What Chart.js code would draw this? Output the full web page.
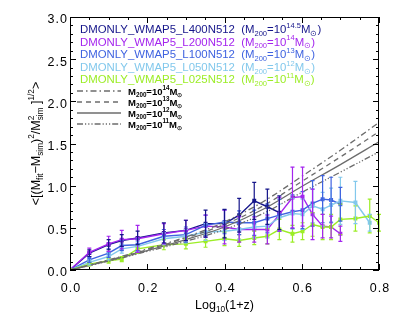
<!DOCTYPE html>
<html lang="en">
<head>
  <meta charset="UTF-8" />
  <title>Mass fit scatter vs redshift</title>
  <script src="https://cdn.jsdelivr.net/npm/chart.js"></script>
  <style>
    html, body { margin: 0; padding: 0; background: #fff; }
    canvas { display: block; }
  </style>
</head>
<body>
  <canvas id="c" width="399" height="319"></canvas>
  <script>
    // log10(1+z) of the snapshots (0 = origin where every curve starts)
    const xSnap = [0, 0.05, 0.10, 0.134, 0.175, 0.243, 0.30, 0.351, 0.40, 0.438, 0.477, 0.511,
                   0.542, 0.576, 0.602, 0.628, 0.654, 0.676, 0.70, 0.739, 0.776, 0.80];

    const l400Y   = [0, 0.20, 0.30, 0.35, 0.38, 0.44, 0.47, 0.55, 0.55, 0.65, 0.82, 0.75, 0.68];
    const l400Err = [0, 0.04, 0.06, 0.07, 0.08, 0.12, 0.12, 0.16, 0.17, 0.20, 0.22, 0.21, 0.20];

    const l200Y   = [0, 0.21, 0.31, 0.36, 0.37, 0.43, 0.47, 0.52, 0.51, 0.48, 0.48, 0.48, 0.66, 0.86, 0.87, 0.66, 0.52, 0.51, 0.43];
    const l200Err = [0, 0.05, 0.09, 0.11, 0.16, 0.12, 0.12, 0.13, 0.20, 0.15, 0.15, 0.17, 0.20, 0.36, 0.35, 0.30, 0.14, 0.13, 0.09];

    const l100Y   = [0, 0.12, 0.20, 0.29, 0.30, 0.40, 0.42, 0.53, 0.57, 0.56, 0.56, 0.61, 0.65, 0.69, 0.71, 0.79, 0.84, 0.83, 0.78];
    const l100Err = [0, 0.03, 0.05, 0.06, 0.07, 0.08, 0.09, 0.12, 0.14, 0.14, 0.15, 0.17, 0.19, 0.20, 0.22, 0.27, 0.28, 0.27, 0.20];

    const l050Y   = [0, 0.09, 0.16, 0.25, 0.28, 0.37, 0.40, 0.45, 0.46, 0.48, 0.51, 0.52, 0.62, 0.67, 0.66, 0.76, 0.72, 0.77, 0.82, 0.80, 0.56];
    const l050Err = [0, 0.03, 0.04, 0.05, 0.06, 0.07, 0.08, 0.10, 0.11, 0.12, 0.13, 0.14, 0.16, 0.18, 0.18, 0.20, 0.20, 0.20, 0.28, 0.25, 0.10];

    const l025Y   = [0, 0.07, 0.11, 0.13, 0.25, 0.30, 0.31, 0.34, 0.37, 0.35, 0.38, 0.40, 0.48, 0.43, 0.46, 0.54, 0.51, 0.51, 0.60, 0.61, 0.64, 0.56];
    const l025Err = [0, 0.02, 0.03, 0.03, 0.05, 0.06, 0.06, 0.07, 0.08, 0.07, 0.08, 0.09, 0.12, 0.10, 0.10, 0.14, 0.15, 0.15, 0.18, 0.15, 0.20, 0.10];

    // model curves
    const xModel   = [0, 0.1, 0.2, 0.3, 0.4, 0.5, 0.6, 0.7, 0.8];
    const model14  = [0, 0.12, 0.25, 0.39, 0.57, 0.81, 1.11, 1.42, 1.75];
    const model13  = [0, 0.115, 0.24, 0.38, 0.54, 0.76, 1.05, 1.34, 1.64];
    const model12  = [0, 0.11, 0.23, 0.36, 0.51, 0.72, 0.99, 1.25, 1.52];
    const model11  = [0, 0.105, 0.22, 0.34, 0.48, 0.67, 0.92, 1.16, 1.40];

    const simNames  = ["DMONLY_WMAP5_L400N512", "DMONLY_WMAP5_L200N512", "DMONLY_WMAP5_L100N512",
                       "DMONLY_WMAP5_L050N512", "DMONLY_WMAP5_L025N512"];
    const simMassExp = ["14.5", "14", "13", "12", "11"];
    const modelExp   = ["14", "13", "12", "11"];

    const yTicks = [0, 0.5, 1.0, 1.5, 2.0, 2.5, 3.0];
    const xTicks = [0, 0.2, 0.4, 0.6, 0.8];

    const simColors = ["#15158a", "#a425ee", "#3f63e0", "#82c8ec", "#9ced26"];
    const grey = "#6c6c6c";
    const modelDash = [[6, 3, 1.5, 3], [5, 4], [], [6, 2, 1.2, 2, 1.2, 2, 1.2, 2]];

    const FONT = "'Liberation Sans', Arial, sans-serif";

    const toPts = (xs, ys) => ys.map((y, i) => ({ x: xs[i], y }));

    const simY = [l400Y, l200Y, l100Y, l050Y, l025Y];
    const simErr = [l400Err, l200Err, l100Err, l050Err, l025Err];
    const models = [model14, model13, model12, model11];

    const datasets = [];
    models.forEach((m, i) => {
      datasets.push({
        data: toPts(xModel, m),
        borderColor: grey,
        borderWidth: 1.3,
        borderDash: modelDash[i],
        pointRadius: 0,
        tension: 0.35,
        fill: false
      });
    });
    [4, 3, 2, 1, 0].forEach(i => {
      datasets.push({
        data: toPts(xSnap, simY[i]),
        errors: simErr[i],
        borderColor: simColors[i],
        backgroundColor: simColors[i],
        borderWidth: 1.4,
        pointRadius: 1.8,
        pointStyle: 'rect',
        tension: 0,
        fill: false
      });
    });

    // text with sub / superscripts: parts = [[text, kind]], kind n|sub|sup|both
    function richWidth(ctx, parts, size, weight) {
      let w = 0;
      parts.forEach(([t, k]) => {
        if (k === 'both') {
          ctx.font = `${weight} ${size * 0.66}px ${FONT}`;
          w += Math.max(ctx.measureText(t[0]).width, ctx.measureText(t[1]).width);
        } else {
          ctx.font = `${weight} ${k === 'n' ? size : size * 0.66}px ${FONT}`;
          w += ctx.measureText(t).width;
        }
      });
      return w;
    }

    function drawRich(ctx, parts, x, y, size, color, weight = 'normal') {
      ctx.fillStyle = color;
      ctx.textBaseline = 'alphabetic';
      ctx.textAlign = 'left';
      parts.forEach(([t, k]) => {
        if (k === 'n') {
          ctx.font = `${weight} ${size}px ${FONT}`;
          ctx.fillText(t, x, y);
          x += ctx.measureText(t).width;
        } else if (k === 'sub') {
          ctx.font = `${weight} ${size * 0.66}px ${FONT}`;
          ctx.fillText(t, x, y + size * 0.25);
          x += ctx.measureText(t).width;
        } else if (k === 'sup') {
          ctx.font = `${weight} ${size * 0.66}px ${FONT}`;
          ctx.fillText(t, x, y - size * 0.45);
          x += ctx.measureText(t).width;
        } else {
          ctx.font = `${weight} ${size * 0.66}px ${FONT}`;
          ctx.fillText(t[0], x, y - size * 0.45);
          ctx.fillText(t[1], x, y + size * 0.25);
          x += Math.max(ctx.measureText(t[0]).width, ctx.measureText(t[1]).width);
        }
      });
      return x;
    }

    const errorBars = {
      id: 'errorBars',
      afterDatasetsDraw(chart) {
        const { ctx, scales: { x, y } } = chart;
        chart.data.datasets.forEach(ds => {
          if (!ds.errors) return;
          ctx.save();
          ctx.strokeStyle = ds.borderColor;
          ctx.lineWidth = 1.2;
          ds.data.forEach((p, i) => {
            const e = ds.errors[i];
            if (!e) return;
            const px = x.getPixelForValue(p.x);
            const y1 = y.getPixelForValue(p.y + e);
            const y2 = y.getPixelForValue(p.y - e);
            ctx.beginPath();
            ctx.moveTo(px, y1); ctx.lineTo(px, y2);
            ctx.moveTo(px - 2, y1); ctx.lineTo(px + 2, y1);
            ctx.moveTo(px - 2, y2); ctx.lineTo(px + 2, y2);
            ctx.stroke();
          });
          ctx.restore();
        });
      }
    };

    const frame = {
      id: 'frame',
      afterDraw(chart) {
        const { ctx, chartArea: a, scales: { x, y } } = chart;
        ctx.save();
        ctx.strokeStyle = '#000';
        ctx.lineWidth = 1;
        ctx.strokeRect(a.left + 0.5, a.top + 0.5, a.right - a.left - 1, a.bottom - a.top - 1);

        ctx.beginPath();
        for (let i = 0; i <= 30; i++) {
          const py = Math.round(y.getPixelForValue(i / 10)) + 0.5;
          const len = i % 5 === 0 ? 6 : 3;
          ctx.moveTo(a.left, py); ctx.lineTo(a.left + len, py);
          ctx.moveTo(a.right, py); ctx.lineTo(a.right - len, py);
        }
        for (let i = 0; i <= 16; i++) {
          const px = Math.round(x.getPixelForValue(i * 0.05)) + 0.5;
          const len = i % 4 === 0 ? 6 : 3;
          ctx.moveTo(px, a.bottom); ctx.lineTo(px, a.bottom - len);
          ctx.moveTo(px, a.top); ctx.lineTo(px, a.top + len);
        }
        ctx.stroke();

        // tick labels
        ctx.fillStyle = '#000';
        ctx.font = `12.5px ${FONT}`;
        ctx.letterSpacing = '1px';
        ctx.textBaseline = 'middle';
        ctx.textAlign = 'right';
        yTicks.forEach(v => ctx.fillText(v.toFixed(1), a.left - 2, y.getPixelForValue(v) + 3));
        ctx.textAlign = 'center';
        ctx.textBaseline = 'alphabetic';
        xTicks.forEach(v => ctx.fillText(v.toFixed(1), x.getPixelForValue(v) + 1, a.bottom + 22));
        ctx.letterSpacing = '0px';

        // x title
        const xt = [["Log", 'n'], ["10", 'sub'], ["(1+z)", 'n']];
        const xw = richWidth(ctx, xt, 12.5, 'normal');
        drawRich(ctx, xt, (a.left + a.right) / 2 - xw / 2, 309, 12.5, '#000');

        // y title
        const yt = [["<[(M", 'n'], ["fit", 'sub'], ["\u2212M", 'n'], ["sim", 'sub'], [")", 'n'], ["2", 'sup'],
                    ["/M", 'n'], [["2", "sim"], 'both'], [" ]", 'n'], ["1/2", 'sup'], [">", 'n']];
        ctx.save();
        ctx.translate(40, (a.top + a.bottom) / 2);
        ctx.rotate(-Math.PI / 2);
        const yw = richWidth(ctx, yt, 12.5, 'normal');
        drawRich(ctx, yt, -yw / 2, 0, 12.5, '#000');
        ctx.restore();

        // simulation legend
        simNames.forEach((name, i) => {
          const ly = 33 + i * 12.6;
          const lx = drawRich(ctx, [[name, 'n']], 80, ly, 11.4, simColors[i]);
          drawRich(ctx, [["  (M", 'n'], ["200", 'sub'], ["=10", 'n'], [simMassExp[i], 'sup'], ["M", 'n'], ["\u2299", 'sub'], [")", 'n']],
                   lx, ly, 11.4, simColors[i]);
        });

        // model legend
        modelExp.forEach((e, i) => {
          const ly = 91 + i * 11;
          ctx.strokeStyle = grey;
          ctx.lineWidth = 1.3;
          ctx.setLineDash(modelDash[i]);
          ctx.beginPath();
          ctx.moveTo(77, ly); ctx.lineTo(121, ly);
          ctx.stroke();
          ctx.setLineDash([]);
          drawRich(ctx, [["M", 'n'], ["200", 'sub'], ["=10", 'n'], [e, 'sup'], ["M", 'n'], ["\u2299", 'sub']],
                   128, ly + 3.5, 9.5, '#000', 'bold');
        });
        ctx.restore();
      }
    };

    new Chart(document.getElementById('c').getContext('2d'), {
      type: 'line',
      data: { datasets },
      plugins: [errorBars, frame],
      options: {
        responsive: false,
        animation: false,
        devicePixelRatio: 1,
        layout: { padding: { top: 17, right: 20, left: 0, bottom: 0 } },
        plugins: { legend: { display: false }, tooltip: { enabled: false } },
        scales: {
          x: {
            type: 'linear', min: 0, max: 0.8,
            ticks: { display: false },
            grid: { display: false },
            border: { display: false },
            afterFit: s => { s.height = 49; }
          },
          y: {
            min: 0, max: 3,
            ticks: { display: false },
            grid: { display: false },
            border: { display: false },
            afterFit: s => { s.width = 70; }
          }
        }
      }
    });
  </script>
</body>
</html>
